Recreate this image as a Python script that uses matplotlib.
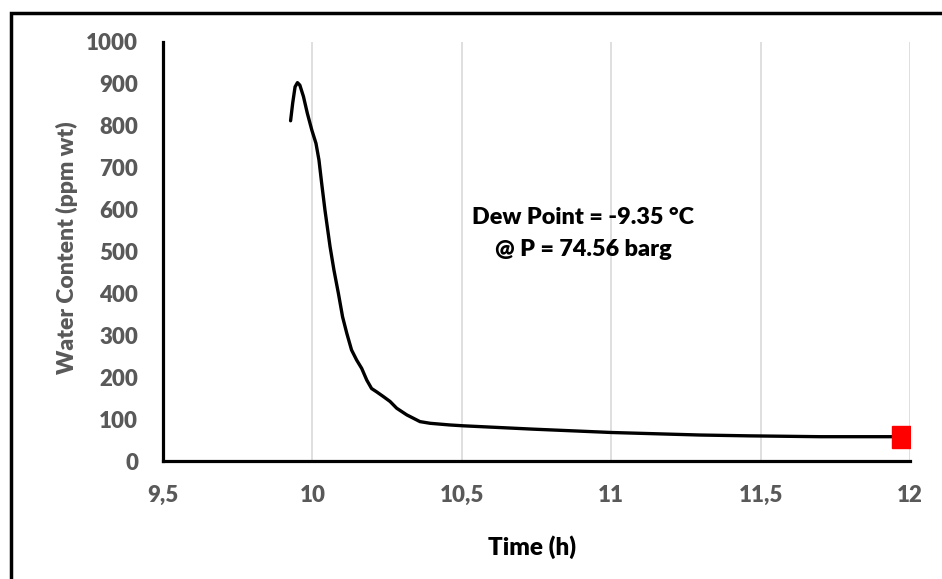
import matplotlib
matplotlib.use("Agg")
import matplotlib.pyplot as plt
from matplotlib.patches import Rectangle

# Datos
tiempo_h = [9.927, 9.934, 9.942, 9.950, 9.958, 9.970, 9.983, 9.998, 10.012,
            10.022, 10.031, 10.042, 10.059, 10.072, 10.087, 10.101, 10.115,
            10.131, 10.148, 10.165, 10.182, 10.198, 10.215, 10.237, 10.260,
            10.282, 10.316, 10.360, 10.394, 10.460, 10.505, 10.739, 11.002,
            11.297, 11.464, 11.700, 11.977]
agua_ppm = [812, 854, 893, 903, 897, 870, 830, 790, 758,
            718, 663, 599, 512, 456, 400, 344, 305,
            265, 241, 221, 193, 173, 165, 154, 142,
            126, 110, 94, 90, 86, 84, 76, 68,
            62, 60, 58, 58]
punto_final = (11.977, 58)
x_ticks = [9.5, 10, 10.5, 11, 11.5, 12]
x_tick_labels = ["9,5", "10", "10,5", "11", "11,5", "12"]
y_ticks = list(range(0, 1001, 100))
texto_dew = "Dew Point = -9.35 °C\n@ P = 74.56 barg"

gris = "#595959"
peso = "heavy"
plt.rcParams["font.family"] = ["Lato", "DejaVu Sans"]
plt.rcParams["font.weight"] = peso

fig = plt.figure(figsize=(9.42, 5.79), dpi=100)
ax = fig.add_axes([163 / 942, 1 - 461 / 579, 747 / 942, 419 / 579])

# Marco exterior (solo visibles arriba e izquierda)
fig.patches.append(Rectangle((11 / 942, -0.1), 1.2, 1 - 13 / 579 + 0.1,
                             transform=fig.transFigure, fill=False,
                             edgecolor="black", linewidth=2.5))

ax.plot(tiempo_h, agua_ppm, color="black", linewidth=2.4,
        solid_capstyle="round", solid_joinstyle="round")
ax.plot([punto_final[0]], [punto_final[1]], marker="s", color="#ff0000",
        markersize=16, linestyle="none", zorder=5)

ax.set_xlim(9.5, 12)
ax.set_ylim(0, 1000)
ax.set_xticks(x_ticks)
ax.set_xticklabels(x_tick_labels)
ax.set_yticks(y_ticks)

for x in x_ticks[1:]:
    ax.axvline(x, color="#d9d9d9", linewidth=1.2, zorder=0)

for s in ["top", "right"]:
    ax.spines[s].set_visible(False)
for s in ["left", "bottom"]:
    ax.spines[s].set_linewidth(2.3)
    ax.spines[s].set_color("black")

ax.tick_params(axis="both", length=0, labelsize=16, labelcolor=gris)
ax.tick_params(axis="y", pad=18)
ax.tick_params(axis="x", pad=17)
for lbl in ax.get_xticklabels() + ax.get_yticklabels():
    lbl.set_fontweight(peso)

ax.set_ylabel("Water Content (ppm wt)", fontsize=16.5, fontweight=peso, color=gris)
ax.yaxis.set_label_coords(-0.114, 0.51)
ax.set_xlabel("Time (h)", fontsize=17.5, fontweight=peso, color="black")
ax.xaxis.set_label_coords(0.494, -0.178)

ax.text(10.906, 543, texto_dew, ha="center", va="center", fontsize=16.8,
        fontweight=peso, color="black", linespacing=1.7)

fig.savefig("out.png", dpi=100)
